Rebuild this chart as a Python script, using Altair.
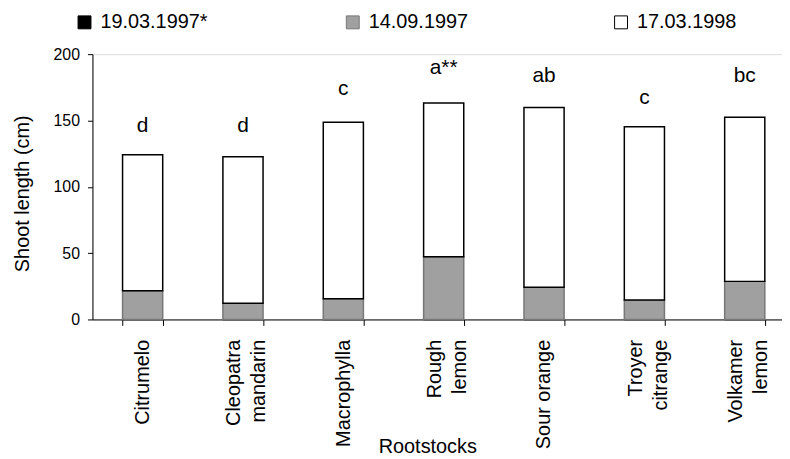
import altair as alt
import pandas as pd

# ---- data ----
rootstocks = ["Citrumelo", "Cleopatra|mandarin", "Macrophylla", "Rough|lemon",
              "Sour orange", "Troyer|citrange", "Volkamer|lemon"]
dates = ["19.03.1997*", "14.09.1997", "17.03.1998"]
len_19_03_1997 = [0, 0, 0, 0, 0, 0, 0]
len_14_09_1997 = [21.6, 12.2, 15.6, 47.2, 24.2, 14.6, 28.7]
len_17_03_1998 = [124.1, 122.6, 148.6, 163.2, 159.7, 145.2, 152.4]
letters = ["d", "d", "c", "a**", "ab", "c", "bc"]
letter_y = [141.4, 141.4, 169.4, 185.4, 179.2, 162.4, 179.2]

series = [len_19_03_1997, len_14_09_1997, len_17_03_1998]
rows = []
for i, r in enumerate(rootstocks):
    prev = 0
    for d, s in zip(dates, series):
        rows.append({"rootstock": r, "date": d, "start": prev, "end": s[i]})
        prev = s[i]
df = pd.DataFrame(rows)
df_letters = pd.DataFrame({"rootstock": rootstocks, "letter": letters, "ly": letter_y})

FONT = "Liberation Sans"

xscale = alt.Scale(domain=rootstocks, range=[0, 707], paddingInner=0.6, paddingOuter=0.3)
yscale = alt.Scale(domain=[0, 200], nice=False)

x_enc = alt.X(
    "rootstock:N", sort=rootstocks, scale=xscale,
    axis=alt.Axis(
        title="Rootstocks", titleFontSize=20, titleFontWeight="normal", titleFont=FONT,
        titleX=337, titleY=134, titleBaseline="alphabetic", titleAlign="center",
        labelAngle=270, labelFontSize=20, labelFont=FONT, labelPadding=14,
        labelLineHeight=25,
        labelExpr="datum.value ? split(datum.value, '|') : ''",
        labelOffset={"condition": {"test": "isString(datum.value) && indexof(datum.value, '|') >= 0",
                                   "value": -9},
                     "value": 0},
        tickBand="extent", tickSize=6, tickWidth=1, domainColor="black",
        tickColor="black", labelColor="black", titleColor="black", grid=False,
        labelOverlap=False,
    ),
)

bars = alt.Chart(df).mark_bar(strokeWidth=1.5).encode(
    x=x_enc,
    y=alt.Y(
        "end:Q", scale=yscale,
        axis=alt.Axis(
            values=[0, 50, 100, 150, 200], title="Shoot length (cm)",
            titleFontSize=20, titleFontWeight="normal", titleFont=FONT,
            titleAngle=270, titleX=-70, titleY=140, titleBaseline="middle",
            titleAlign="center", labelFontSize=16, labelFont=FONT, labelPadding=8,
            tickSize=5, domainColor="black", tickColor="black", labelColor="black",
            titleColor="black", grid=False,
        ),
    ),
    y2="start:Q",
    fill=alt.Fill(
        "date:N",
        scale=alt.Scale(domain=dates, range=["#000000", "#a0a0a0", "#ffffff"]),
        legend=alt.Legend(
            title=None, orient="none", legendX=-18, legendY=-42, direction="horizontal",
            columns=3, columnPadding=136, gridAlign="all", symbolType="square",
            symbolSize=169, symbolStrokeColor="black", symbolStrokeWidth=1,
            labelFontSize=20, labelFont=FONT, labelColor="black", labelOffset=6,
            padding=0, symbolOpacity=1,
        ),
    ),
    stroke=alt.Stroke(
        "date:N",
        scale=alt.Scale(domain=dates, range=["#000000", "#777777", "#000000"]),
        legend=None,
    ),
)

text = alt.Chart(df_letters).mark_text(
    align="center", baseline="alphabetic", fontSize=21, font=FONT, color="black"
).encode(
    x=alt.X("rootstock:N", sort=rootstocks, scale=xscale),
    y=alt.Y("ly:Q", scale=yscale),
    text="letter:N",
)

chart = alt.layer(bars, text).properties(
    width=694, height=267,
    autosize=alt.AutoSizeParams(type="none"),
    padding={"left": 85, "top": 45, "right": 0, "bottom": 139},
).configure_view(stroke=None).configure(background="white")

chart.save("out.html", embed_options={"renderer": "svg", "actions": False})
